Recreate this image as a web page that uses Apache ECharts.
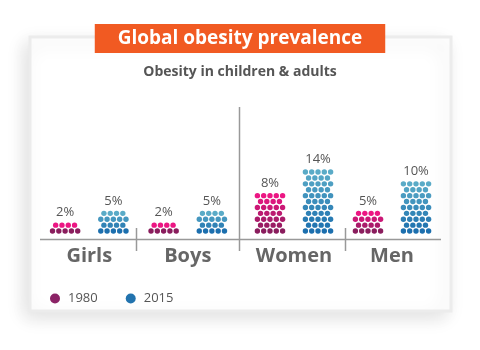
<!DOCTYPE html>
<html style="height: 100%">
<head>
<meta charset="utf-8">
<script src="https://cdn.jsdelivr.net/npm/echarts@6/dist/echarts.min.js"></script>
</head>
<body style="height: 100%; margin: 0; background: #fff">
<div id="container" style="width: 480px; height: 350px"></div>
<script type="text/javascript">
//------ data ------
var catChildren = ['Girls', 'Boys'];
var catAdults = ['Women', 'Men'];
var pct1980 = [2, 2, 8, 5];
var pct2015 = [5, 5, 14, 10];
// dot rows visible in each stack
var rows1980 = [2, 2, 7, 4];
var rows2015 = [4, 4, 11, 9];
var legendNames = ['1980', '2015'];
//------------------

var FONT = '"Open Sans", "DejaVu Sans", sans-serif';
var ROW_OFFSET = 1.35;   // first row centre above baseline, in row units
var DOT_STEP = 6.3;
var DOT_R = 2.7;

function hex2rgb(h) {
	return [parseInt(h.substr(1, 2), 16), parseInt(h.substr(3, 2), 16), parseInt(h.substr(5, 2), 16)];
}
function mix(a, b, t) {
	var x = hex2rgb(a), y = hex2rgb(b);
	return 'rgb(' + Math.round(x[0] + (y[0] - x[0]) * t) + ',' +
		Math.round(x[1] + (y[1] - x[1]) * t) + ',' +
		Math.round(x[2] + (y[2] - x[2]) * t) + ')';
}

// draws a stack of hex-packed dots (5 / 4 alternating) for one bar
function dotStack(side, bottomColor, topColor) {
	return function (params, api) {
		var cat = api.value(0);
		var rows = api.value(1);
		var pct = api.value(2);
		var base = api.coord([cat, 0]);
		var band = api.size([1, 0])[0];
		var cx = base[0] + side * band * 0.245;
		var children = [];
		for (var r = 0; r < rows; r++) {
			var y = api.coord([cat, r + ROW_OFFSET])[1];
			var n = r % 2 === 0 ? 5 : 4;
			var t = rows > 1 ? r / (rows - 1) : 0;
			var color = mix(bottomColor, topColor, t);
			for (var c = 0; c < n; c++) {
				children.push({
					type: 'circle',
					shape: { cx: cx + (c - (n - 1) / 2) * DOT_STEP, cy: y, r: DOT_R },
					style: { fill: color }
				});
			}
		}
		var topY = api.coord([cat, rows - 1 + ROW_OFFSET])[1];
		children.push({
			type: 'text',
			style: {
				text: pct + '%', x: cx, y: topY - 12.5,
				align: 'center', verticalAlign: 'middle',
				fill: '#555', font: '13px ' + FONT
			}
		});
		return { type: 'group', children: children };
	};
}

function seriesData(rows, pcts, from, to) {
	var out = [];
	for (var i = from; i < to; i++) {
		out.push([i - from, rows[i], pcts[i]]);
	}
	return out;
}

var c1980 = ['#8a1d5d', '#ec1683'];
var c2015 = ['#1c6fae', '#5aabc7'];

function makeSeries(gridIdx, from, to) {
	return [
		{
			name: legendNames[0], type: 'custom',
			xAxisIndex: gridIdx, yAxisIndex: gridIdx,
			itemStyle: { color: '#8b2366' },
			renderItem: dotStack(-1, c1980[0], c1980[1]),
			data: seriesData(rows1980, pct1980, from, to)
		},
		{
			name: legendNames[1], type: 'custom',
			xAxisIndex: gridIdx, yAxisIndex: gridIdx,
			itemStyle: { color: '#2273ae' },
			renderItem: dotStack(1, c2015[0], c2015[1]),
			data: seriesData(rows2015, pct2015, from, to)
		}
	];
}

function xAx(gridIdx, data) {
	return {
		type: 'category', gridIndex: gridIdx, data: data,
		axisLine: { show: false }, axisTick: { show: false },
		axisLabel: { interval: 0, hideOverlap: false, color: '#666', fontSize: 20, fontWeight: 'bold', fontFamily: FONT, margin: 7 }
	};
}
function yAx(gridIdx) {
	return { type: 'value', gridIndex: gridIdx, min: 0, max: 20, show: false };
}

var myChart = echarts.init(document.getElementById('container'));
var option = {
	animation: false,
	title: [
		{
			text: 'Global obesity prevalence', left: 'center', top: 24,
			padding: [4, 23, 4, 23], backgroundColor: '#f15a22',
			textStyle: { color: '#fff', fontSize: 19, fontWeight: 'bold', fontFamily: FONT, lineHeight: 21 }
		},
		{
			text: 'Obesity in children & adults', left: 'center', top: 64, padding: 0,
			textStyle: { color: '#555', fontSize: 14, fontWeight: 'bold', fontFamily: FONT, lineHeight: 16 }
		}
	],
	legend: {
		data: legendNames, left: 45, top: 287, icon: 'circle',
		itemWidth: 16, itemHeight: 10, itemGap: 28,
		textStyle: { color: '#555', fontSize: 13, fontFamily: FONT }
	},
	graphic: [
		{
			type: 'rect', z: -10,
			shape: { x: 30, y: 37, width: 421, height: 274 },
			style: { fill: '#fff', stroke: '#ececec', lineWidth: 3,
				shadowBlur: 18, shadowColor: 'rgba(0,0,0,0.12)', shadowOffsetX: -5, shadowOffsetY: 6 }
		},
		{ type: 'line', shape: { x1: 40, y1: 239.5, x2: 441, y2: 239.5 }, style: { stroke: '#999', lineWidth: 1.3 } },
		{ type: 'line', shape: { x1: 136.5, y1: 228, x2: 136.5, y2: 251 }, style: { stroke: '#999', lineWidth: 1.5 } },
		{ type: 'line', shape: { x1: 239.5, y1: 107, x2: 239.5, y2: 251 }, style: { stroke: '#999', lineWidth: 1.5 } },
		{ type: 'line', shape: { x1: 345.5, y1: 228, x2: 345.5, y2: 251 }, style: { stroke: '#999', lineWidth: 1.5 } }
	],
	grid: [
		{ left: 40, right: 243, top: 121, bottom: 111 },
		{ left: 245, right: 39, top: 121, bottom: 111 }
	],
	xAxis: [xAx(0, catChildren), xAx(1, catAdults)],
	yAxis: [yAx(0), yAx(1)],
	series: makeSeries(0, 0, 2).concat(makeSeries(1, 2, 4))
};
myChart.setOption(option);
</script>
</body>
</html>
